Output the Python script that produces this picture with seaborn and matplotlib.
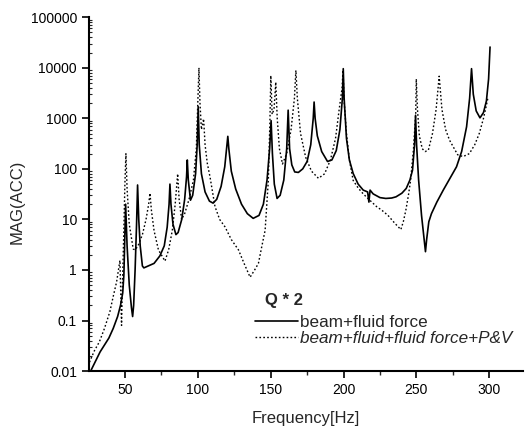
import numpy as np
import pandas as pd
import matplotlib
matplotlib.use("Agg")
import matplotlib.pyplot as plt
import matplotlib.ticker as mticker
import seaborn as sns

# --- data ---
freq_solid = [26.5, 30, 33, 36, 39, 42, 45, 47, 48.5, 49.3, 49.8, 50.5, 51.5, 53, 54.5,
              55.3, 56, 57, 58, 58.7, 59.5, 60.5, 62, 63, 66, 70, 74, 77, 79, 80.3,
              80.9, 81.6, 83, 85, 86.5, 89, 91, 92.3, 92.8, 93.5, 95, 96.5, 98.5, 99.6,
              100.3, 101, 102.5, 105, 108, 110.5, 113, 116, 118.5, 120, 120.6, 121.3,
              123, 126, 130, 134, 138, 142, 145, 147.5, 149.3, 150.3, 151.2, 152.5,
              154.4, 156.5, 159, 161, 162, 163, 164.5, 166.5, 169, 172, 175, 177.5,
              179.2, 179.8, 180.5, 182, 185, 189, 192, 195, 197.5, 199.2, 199.8, 200.4,
              202, 204, 206.6, 210, 213.5, 216.5, 217.4, 218.2, 220.3, 225, 229, 233,
              236, 240, 243, 245.5, 247.3, 248.7, 249.4, 250.1, 251.5, 253.5, 255.3,
              256.2, 257, 258.5, 260.3, 264, 268.4, 273, 277.5, 281, 284.4, 286.5,
              287.8, 289, 291, 293.6, 296, 298, 299.5, 300.5]
mag_solid = [0.01, 0.016, 0.024, 0.033, 0.045, 0.07, 0.12, 0.2, 0.35, 0.8, 3, 20, 3, 0.5,
             0.18, 0.12, 0.2, 1, 8, 48, 10, 3, 1.2, 1.1, 1.2, 1.35, 1.9, 3, 7, 20, 50, 20,
             8, 5, 5.5, 10, 25, 70, 150, 60, 24, 30, 80, 300, 1700, 300, 80, 35, 23, 21,
             25, 45, 110, 300, 440, 250, 90, 40, 20, 13, 10.5, 12, 20, 60, 250, 900, 200,
             50, 26, 30, 60, 250, 1450, 250, 120, 87, 85, 100, 140, 300, 1000, 2100,
             1000, 450, 220, 140, 150, 230, 600, 2500, 9600, 2500, 400, 150, 81, 50, 38,
             35, 22, 38, 32, 27, 26, 26.5, 28, 33, 41, 60, 94, 300, 1150, 300, 60, 12, 4,
             2.3, 4, 9, 13, 22, 38, 65, 110, 220, 680, 2500, 9600, 3000, 1400, 1020, 1300,
             2200, 6000, 25700]

freq_dot = [25.7, 29, 32.5, 36, 39.7, 42, 44.3, 46.6, 47.2, 47.7, 48.3, 49.2, 50, 50.7,
            51.5, 53, 55.7, 57, 59, 62, 64.5, 66.3, 67.2, 68.2, 70, 73, 77.5, 80, 82.5,
            84.5, 86.2, 87.2, 88.9, 91, 94, 97, 99, 100.2, 100.8, 101.5, 102.5, 104, 105,
            106.5, 108.4, 111.8, 115, 118.7, 123, 127.9, 132, 135.9, 139, 141.6, 144,
            146.2, 148.4, 149.5, 150.1, 151, 152.3, 153.5, 154.5, 156, 158.1, 161, 164,
            166.3, 167.3, 168.3, 170.5, 174, 178, 182.8, 187, 191, 194.5, 197, 199, 199.6,
            200.5, 202, 204, 206.6, 210, 213.5, 218, 222.6, 226.5, 230.5, 235, 239.3, 241,
            242.7, 244.5, 246, 248, 249.5, 249.9, 250.7, 252, 254, 256, 258.2, 261, 263.5,
            265.6, 267.5, 270, 272.7, 278.3, 282, 286.3, 290, 293.1, 296, 297.7, 299]
mag_dot = [0.015, 0.025, 0.038, 0.07, 0.15, 0.3, 0.58, 1.55, 0.3, 0.08, 0.5, 5, 50, 200,
           40, 8, 2.6, 2.5, 3, 5, 10, 20, 33, 15, 6, 2.5, 1.5, 2.5, 6, 20, 80, 25, 10, 13,
           25, 60, 250, 3000, 10000, 2000, 600, 980, 300, 130, 69, 18, 10, 7.1, 4, 2.5,
           1.3, 0.72, 1.0, 1.35, 3, 6.1, 59, 900, 7000, 1200, 1500, 5200, 1000, 250, 125,
           200, 600, 2500, 8900, 2500, 500, 170, 90, 65, 80, 150, 400, 1500, 4000, 9000,
           2000, 500, 150, 59, 42, 32, 24, 18, 15, 12, 8.5, 6.3, 9, 15, 30, 59, 250, 1250,
           6000, 1500, 450, 250, 220, 235, 500, 1500, 6800, 1500, 600, 370, 190, 175, 200,
           300, 500, 1000, 1660, 2500]

label_solid = "beam+fluid force"
label_dot = "beam+fluid+fluid force+P&V"
legend_title = "Q * 2"
yticks = [0.01, 0.1, 1, 10, 100, 1000, 10000, 100000]
ytick_labels = ["0.01", "0.1", "1", "10", "100", "1000", "10000", "100000"]
xticks = [50, 100, 150, 200, 250, 300]

df_solid = pd.DataFrame({"Frequency": freq_solid, "MAG": mag_solid})
df_dot = pd.DataFrame({"Frequency": freq_dot, "MAG": mag_dot})

sns.set_style("ticks")
plt.rcParams["font.family"] = ["Liberation Sans", "DejaVu Sans"]

fig = plt.figure(figsize=(5.26, 4.30), dpi=100)
ax = fig.add_axes([0.169, 0.137, 0.825, 0.823])

sns.lineplot(data=df_solid, x="Frequency", y="MAG", ax=ax, color="black",
             linewidth=1.2, estimator=None, label=label_solid)
sns.lineplot(data=df_dot, x="Frequency", y="MAG", ax=ax, color="black",
             linewidth=1.0, linestyle=(0, (1.2, 1.6)), estimator=None, label=label_dot)

ax.set_yscale("log")
ax.set_xlim(25.3, 323)
ax.set_ylim(0.01, 100000)
ax.set_xticks(xticks)
ax.set_yticks(yticks)
ax.set_yticklabels(ytick_labels)
ax.xaxis.set_minor_locator(mticker.MultipleLocator(25))
ax.yaxis.set_minor_locator(mticker.LogLocator(base=10, subs=np.arange(2, 10)))
ax.yaxis.set_minor_formatter(mticker.NullFormatter())

ax.tick_params(axis="both", which="major", direction="out", length=5, width=1.2,
               labelsize=10, colors="black")
ax.tick_params(axis="y", which="minor", direction="in", length=2.5, width=0.8)
ax.tick_params(axis="x", which="minor", direction="out", length=3, width=1.0)

for side in ["top", "right"]:
    ax.spines[side].set_visible(False)
for side in ["left", "bottom"]:
    ax.spines[side].set_linewidth(1.5)
    ax.spines[side].set_color("black")

ax.set_xlabel("Frequency[Hz]", fontsize=12, labelpad=10)
ax.set_ylabel("MAG(ACC)", fontsize=12)
ax.yaxis.set_label_coords(-0.148, 0.477)

# legend: title drawn as its own text, entries below it
fig.text(265 / 526, 1 - 300 / 430, legend_title, fontsize=12, fontweight="bold",
         ha="left", va="center")
leg = ax.legend(loc="upper left", bbox_to_anchor=(255 / 526, 1 - 315 / 430),
                bbox_transform=fig.transFigure, frameon=False, fontsize=12.3,
                handlelength=2.5, handletextpad=0.12, labelspacing=0.05,
                borderpad=0, borderaxespad=0)
leg.get_texts()[1].set_fontstyle("italic")

fig.savefig("out.png", dpi=100)
